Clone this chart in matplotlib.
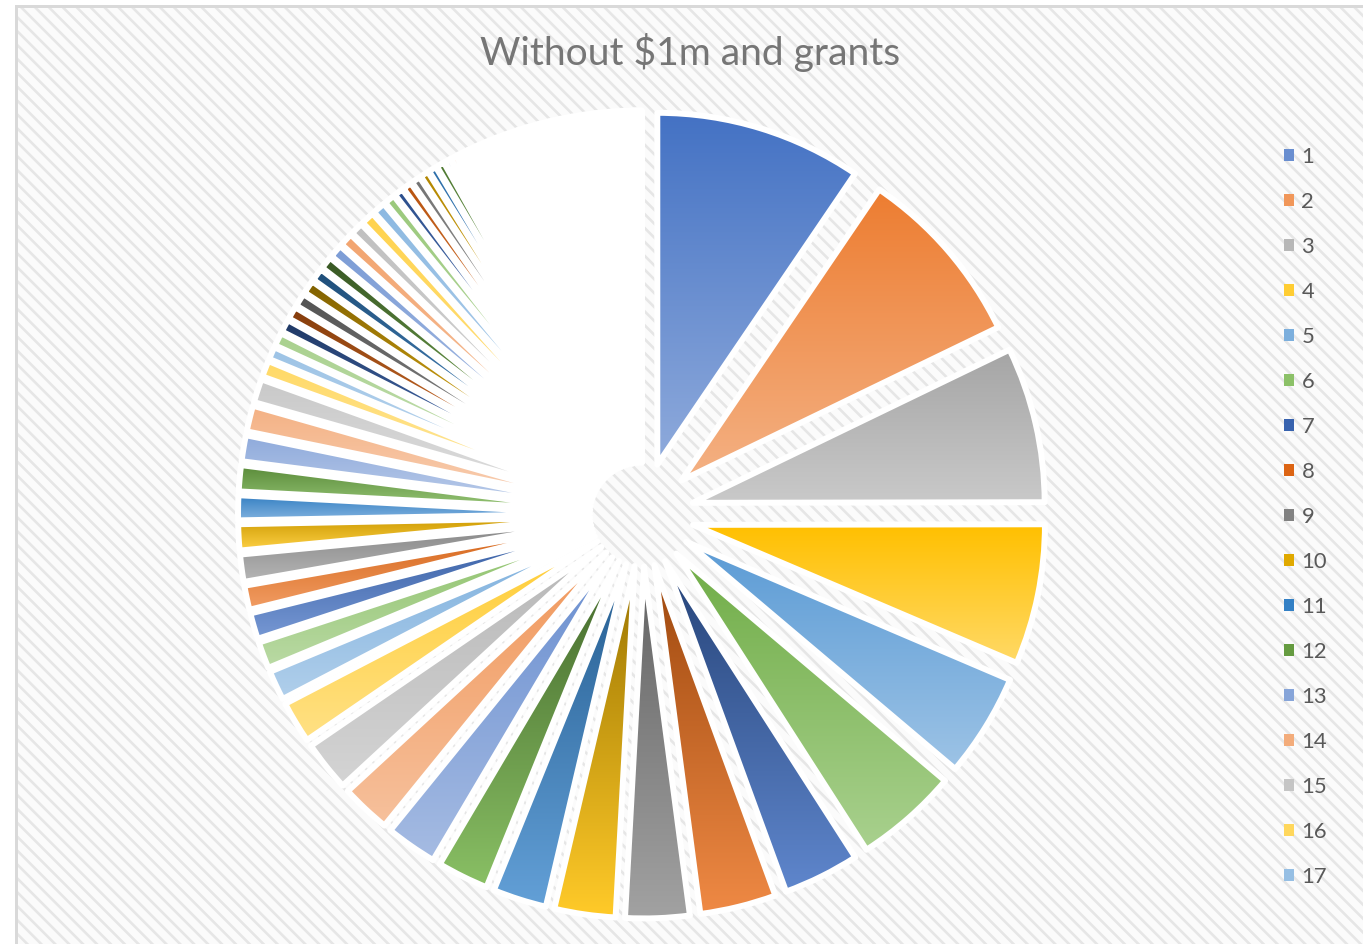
import colorsys
import numpy as np
import matplotlib
matplotlib.use('Agg')
import matplotlib.pyplot as plt
import matplotlib.colors as mcolors
from matplotlib.patches import Patch, PathPatch, Rectangle

W, H, DPI = 1363, 944, 125
PT = 72.0 / DPI  # points per pixel

title = 'Without $1m and grants'

# slice sizes (clockwise from 12 o'clock)
values = [34.2, 30.0, 25.7, 23.2, 17.1, 17.1, 12.6, 12.6, 10.6, 10.1,
          8.9, 8.5, 8.5, 8.2, 8.3, 6.9, 4.9, 4.4, 4.3, 4.0,
          4.5, 4.3, 4.1, 4.3, 4.3, 4.3, 3.9, 2.7, 2.1, 2.2,
          2.1, 2.1, 2.2, 2.2, 2.1, 2.1, 2.2, 2.2, 2.1, 2.2,
          2.1, 1.8, 1.5, 1.5, 1.5, 1.4, 1.3, 1.3]

# the many tiny slices that vanish under their white borders (top left)
tail_values = [1.0, 1.0, 0.9, 0.9, 0.9, 0.8, 0.8, 0.8, 0.8,
               0.7, 0.7, 0.7, 0.7, 0.7, 0.6, 0.6, 0.6, 0.6, 0.6, 0.6,
               0.5, 0.5, 0.5, 0.5, 0.5, 0.5, 0.5,
               0.4, 0.4, 0.4, 0.4, 0.4, 0.4, 0.4, 0.4, 0.4,
               0.3, 0.3, 0.3, 0.3, 0.3, 0.3, 0.3, 0.3, 0.3, 0.3, 0.3,
               0.2, 0.2, 0.2, 0.2, 0.2, 0.2, 0.2, 0.2, 0.2, 0.2, 0.2, 0.2, 0.2,
               0.1, 0.1, 0.1, 0.1, 0.1, 0.1, 0.1, 0.1, 0.1, 0.1, 0.1, 0.1, 0.1]

legend_labels = ['1', '2', '3', '4', '5', '6', '7', '8', '9', '10',
                 '11', '12', '13', '14', '15', '16', '17']

# office theme accents and the lum variations excel cycles through
accents = ['#4472C4', '#ED7D31', '#A5A5A5', '#FFC000', '#5B9BD5', '#70AD47']
lum_steps = [(1.0, 0.0), (0.6, 0.0), (0.8, 0.2), (0.8, 0.0), (0.6, 0.4),
             (0.5, 0.0), (0.7, 0.3), (0.7, 0.0), (0.5, 0.5)]


def lum(c, mod, off):
    h, l, s = colorsys.rgb_to_hls(*mcolors.to_rgb(c))
    return colorsys.hls_to_rgb(h, min(1.0, l * mod + off), s)


def lighter(c, amount):
    h, l, s = colorsys.rgb_to_hls(*c)
    return colorsys.hls_to_rgb(h, l + (1 - l) * amount, s)


def main():
    plt.rcParams['font.family'] = ['Lato', 'DejaVu Sans']
    plt.rcParams['hatch.linewidth'] = 2.6 * PT

    fig = plt.figure(figsize=(W / DPI, H / DPI), dpi=DPI)
    fig.patch.set_facecolor('white')
    ax = fig.add_axes([0, 0, 1, 1])
    ax.set_axis_off()

    all_values = values + tail_values
    n = len(all_values)
    base = [lum(accents[i % 6], *lum_steps[(i // 6) % len(lum_steps)]) for i in range(n)]

    # hatched chart area + thin border (left and top only visible)
    ax.add_patch(Rectangle((17, -20), W + 20, H - 7 + 20, facecolor='#fbfbfb', edgecolor='#e6e6e6',
                           hatch='\\\\\\', linewidth=0, zorder=0))
    ax.add_patch(Rectangle((15.5, -20), W + 20, H - 5.5 + 20, facecolor='none', edgecolor='#d9d9d9',
                           linewidth=3 * PT, zorder=6))

    cx, cy = 642, H - 514.5
    R = 352
    wedges, _ = ax.pie(all_values, colors=base, startangle=90, counterclock=False,
                       radius=R, center=(cx, cy), explode=[52] * n,
                       wedgeprops=dict(linewidth=0))

    # vertical gradient per slice, then all white borders on top
    ramp = np.linspace(0, 1, 64)[:, None, None]
    for w, c in zip(wedges, base):
        x0, y0, x1, y1 = w.get_path().get_extents().extents
        top = np.array(c)
        bottom = np.array(lighter(c, 0.4))
        img = top + ramp * (bottom - top)
        im = ax.imshow(img, extent=(x0, x1, y0, y1), origin='upper',
                       interpolation='bilinear', aspect='auto', zorder=2)
        im.set_clip_path(w)
        ax.add_patch(PathPatch(w.get_path(), facecolor='none', edgecolor='white',
                               linewidth=6 * PT, joinstyle='round', zorder=3))

    ax.text(690, H - 65, title, ha='center', va='baseline', fontsize=39 * PT, color='#767676')

    handles = [Patch(facecolor=lighter(base[i], 0.2), edgecolor='none') for i in range(len(legend_labels))]
    ax.legend(handles, legend_labels, loc='upper left', bbox_to_anchor=(1284 / W, 1 - 147 / H),
              frameon=False, fontsize=22 * PT, handlelength=0.44, handleheight=0.44,
              handletextpad=0.35, labelspacing=1.135, borderpad=0, borderaxespad=0,
              labelcolor='#595959')

    ax.set_xlim(0, W)
    ax.set_ylim(0, H)
    ax.set_aspect('equal')
    fig.savefig('out.png', dpi=DPI)
    plt.close(fig)


if __name__ == '__main__':
    main()
